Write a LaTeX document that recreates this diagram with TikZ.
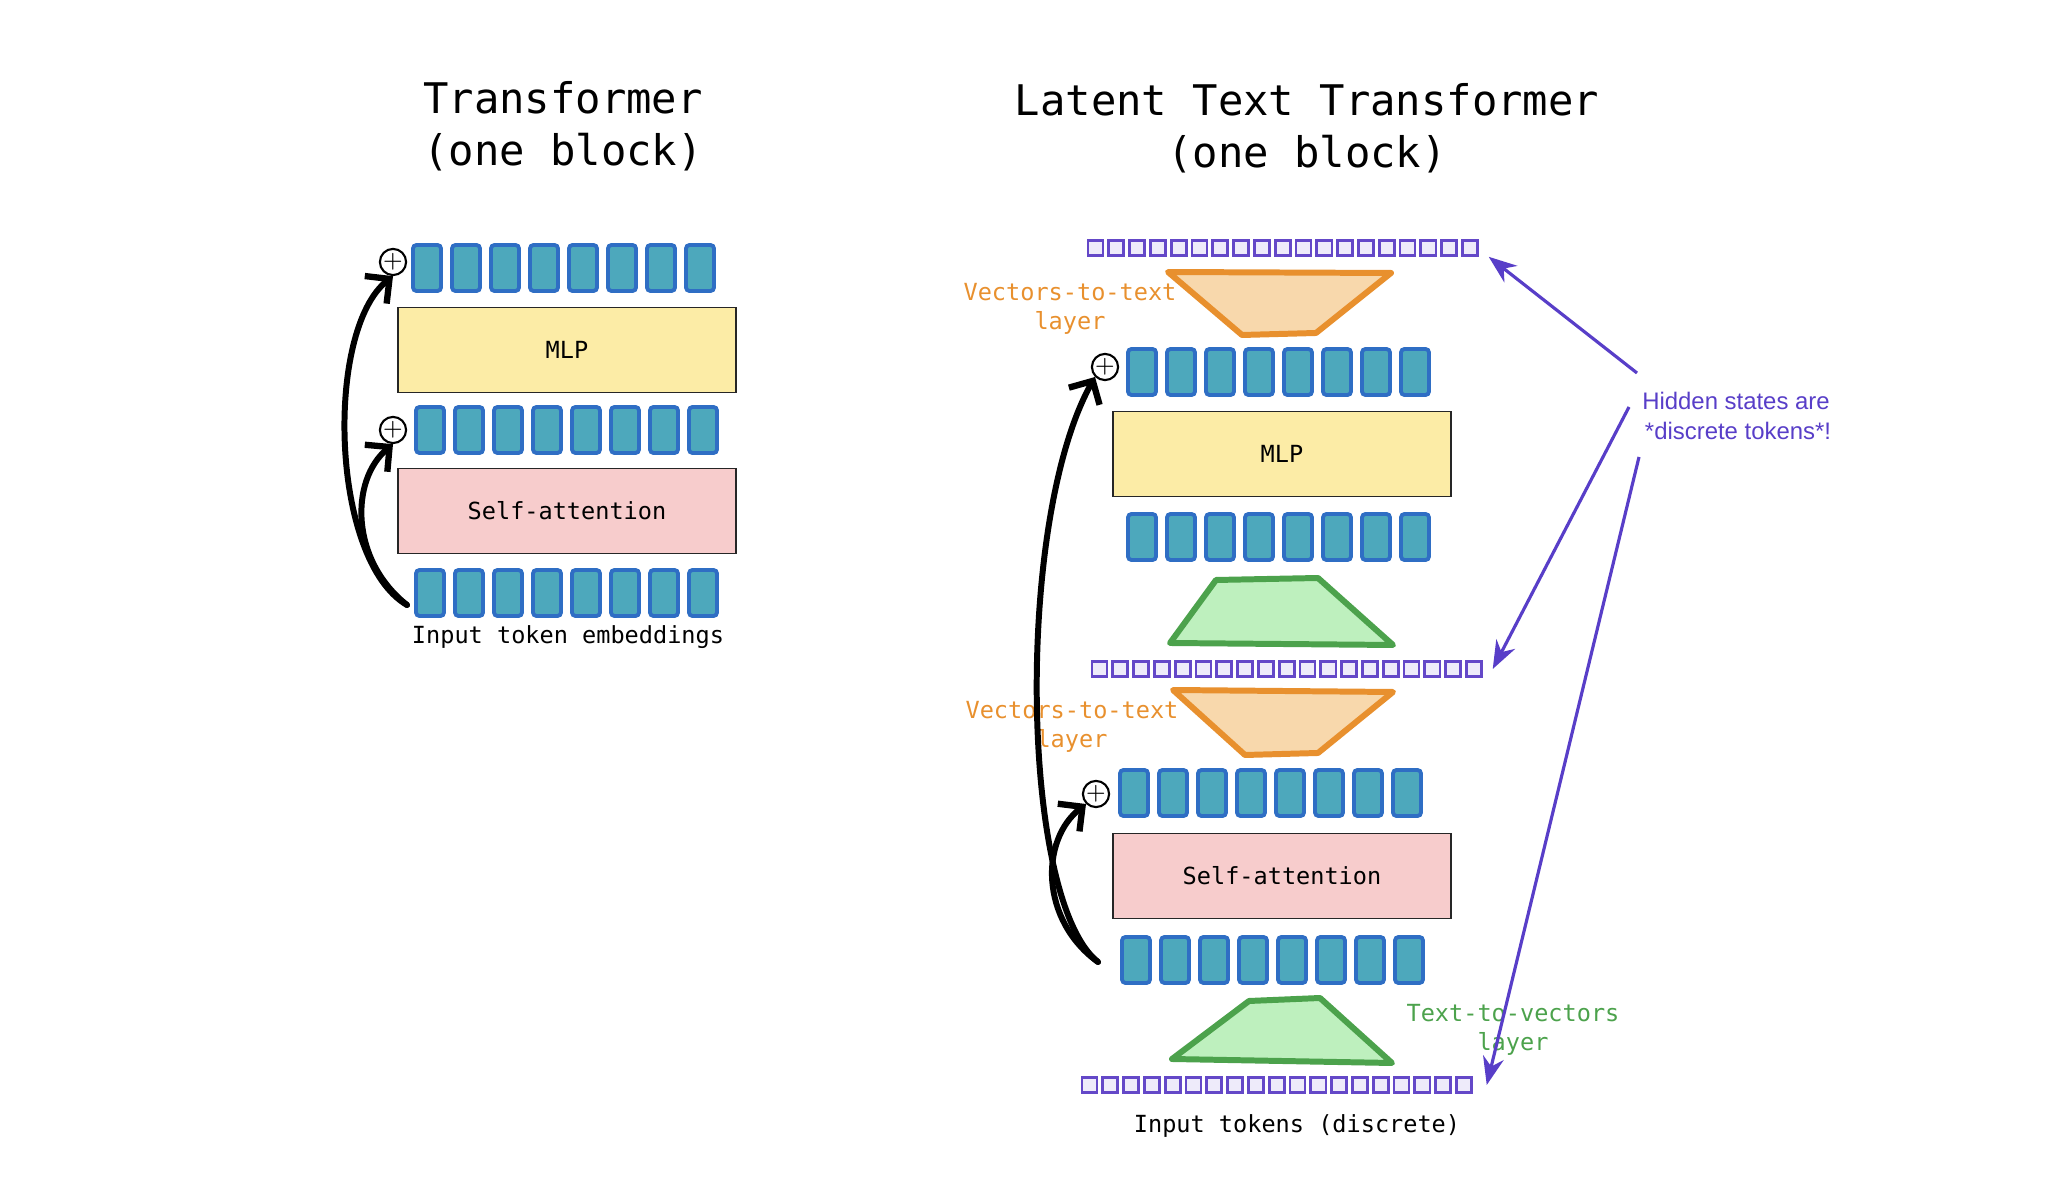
\documentclass[tikz,border=0pt]{standalone}
\usepackage{fontspec}
\setmonofont{DejaVu Sans Mono}
\newfontfamily\hintfont{Liberation Sans}
\usetikzlibrary{arrows.meta}

\definecolor{cellfill}{RGB}{77,168,188}
\definecolor{cellline}{RGB}{47,110,196}
\definecolor{tokfill}{RGB}{238,235,250}
\definecolor{tokline}{RGB}{100,72,200}
\definecolor{mlpfill}{RGB}{252,236,166}
\definecolor{attnfill}{RGB}{247,204,204}
\definecolor{orangeline}{RGB}{232,144,46}
\definecolor{orangefill}{RGB}{248,216,172}
\definecolor{greenline}{RGB}{76,162,76}
\definecolor{greenfill}{RGB}{190,240,190}
\definecolor{hintcolor}{RGB}{88,62,200}

\begin{document}
\begin{tikzpicture}[x=0.01cm,y=-0.01cm,
    vcell/.style={draw=cellline,fill=cellfill,line width=1.1pt,rounded corners=1pt,
      minimum width=0.28cm,minimum height=0.46cm,inner sep=0pt},
    tok/.style={draw=tokline,fill=tokfill,line width=0.75pt,minimum size=0.15cm,inner sep=0pt},
    block/.style={draw=black!85,line width=0.5pt,minimum width=3.38cm,minimum height=0.85cm,
      font=\ttfamily\fontsize{6.7}{8.2}\selectfont},
    plusnode/.style={circle,draw,line width=0.6pt,minimum size=0.26cm,inner sep=0pt,
      font=\fontsize{6.5}{6.5}\selectfont},
    heading/.style={align=center,font=\ttfamily\fontsize{12}{14.8}\selectfont},
    caption/.style={font=\ttfamily\fontsize{6.7}{8.2}\selectfont},
    vtshape/.style={draw=orangeline,fill=orangefill,line width=1.7pt,line join=round},
    tvshape/.style={draw=greenline,fill=greenfill,line width=1.7pt,line join=round},
    vtlabel/.style={align=center,text=orangeline,font=\ttfamily\fontsize{6.7}{8.2}\selectfont},
    tvlabel/.style={align=center,text=greenline,font=\ttfamily\fontsize{6.7}{8.2}\selectfont},
    skip/.style={line width=1.7pt,line cap=round,-{Straight Barb[length=5pt,width=10pt,line width=1.8pt]}},
    point/.style={draw=hintcolor,line width=0.9pt,-{Stealth[length=8pt,width=6pt]}}]
  \useasboundingbox (0,0) rectangle (2048,1192);

  \node[heading] (ltitle) at (563,126) {Transformer\\(one block)};
  \node[heading] (rtitle) at (1307,128) {Latent Text Transformer\\(one block)};

  \foreach \row/\x/\y in {lt/427/268,lm/430/430,lb/430/593,rt/1142/372,rm/1142/537,ra/1134/793,rb/1136/960}
    \foreach \i in {1,...,8}
      \node[vcell] (\row\i) at (\x+39*\i-39,\y) {};

  \foreach \row/\x/\y in {dt/1095.5/248,dm/1099.5/669,db/1089.5/1085}
    \foreach \i in {1,...,19}
      \node[tok] (\row\i) at (\x+20.8*\i-20.8,\y) {};

  \node[block,fill=mlpfill] (lmlp) at (567,350) {MLP};
  \node[block,fill=attnfill] (lattn) at (567,511) {Self-attention};
  \node[block,fill=mlpfill] (rmlp) at (1282,454) {MLP};
  \node[block,fill=attnfill] (rattn) at (1282,876) {Self-attention};

  \node[plusnode] (lsum1) at (393,262) {+};
  \node[plusnode] (lsum2) at (393,430) {+};
  \node[plusnode] (rsum1) at (1105,367) {+};
  \node[plusnode] (rsum2) at (1096,794) {+};

  \draw[vtshape] (1168,272) -- (1391,273) -- (1316,333) -- (1242,335) -- cycle;
  \draw[tvshape] (1216,580) -- (1318,578) -- (1393,645) -- (1170,643) -- cycle;
  \draw[vtshape] (1173,690) -- (1393,692) -- (1318,753) -- (1245,755) -- cycle;
  \draw[tvshape] (1249,1001) -- (1320,998) -- (1392,1063) -- (1172,1059) -- cycle;

  \node[vtlabel] (vt1) at (1070,309) {Vectors-to-text\\layer};
  \node[vtlabel] (vt2) at (1072,727) {Vectors-to-text\\layer};
  \node[tvlabel] (tv1) at (1513,1030) {Text-to-vectors\\layer};

  \node[caption] (lin) at (568,637) {Input token embeddings};
  \node[caption] (rin) at (1297,1126) {Input tokens (discrete)};

  \coordinate (lfrom) at (407,605);
  \coordinate (rfrom) at (1098,962);
  \draw[skip] (lfrom) .. controls (330,560) and (325,330) .. (lsum1.south);
  \draw[skip] (lfrom) .. controls (350,560) and (350,480) .. (lsum2.south);
  \draw[skip] (rfrom) .. controls (1020,900) and (1015,520) .. (rsum1.south west);
  \draw[skip] (rfrom) .. controls (1040,920) and (1040,840) .. (rsum2.south west);

  \node[align=center,text=hintcolor,font=\hintfont\fontsize{6.8}{8.3}\selectfont] (hint) at (1736,416)
    {Hidden states are\\\,*discrete tokens*!};
  \coordinate (h1) at (1637,373);
  \coordinate (h2) at (1629,407);
  \coordinate (h3) at (1639,457);
  \draw[point] (h1) -- ([xshift=0.1cm]dt19.south east);
  \draw[point] (h2) -- ([xshift=0.1cm]dm19.east);
  \draw[point] (h3) -- ([xshift=0.14cm]db19.east);
\end{tikzpicture}
\end{document}
